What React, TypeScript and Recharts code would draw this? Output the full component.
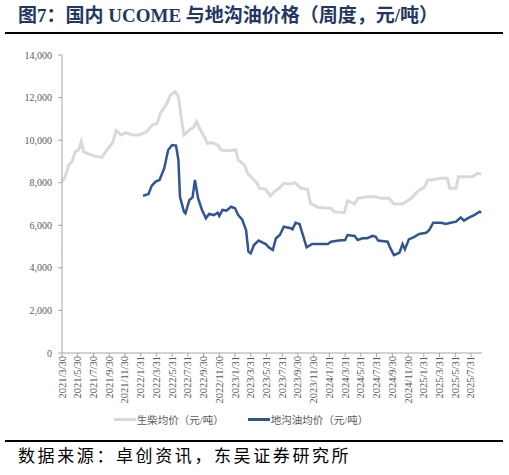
import { LineChart, Line, XAxis, YAxis, Legend } from "recharts";

// 横轴刻度（每两个月）
const tickLabels = [
  "2021/3/30", "2021/5/30", "2021/7/30", "2021/9/30", "2021/11/30",
  "2022/1/31", "2022/3/31", "2022/5/31", "2022/7/31", "2022/9/30", "2022/11/30",
  "2023/1/31", "2023/3/31", "2023/5/31", "2023/7/31", "2023/9/30", "2023/11/30",
  "2024/1/31", "2024/3/31", "2024/5/31", "2024/7/31", "2024/9/30", "2024/11/30",
  "2025/1/31", "2025/3/31", "2025/5/31", "2025/7/31",
];

// 生柴均价：自 2021/3/30 起的月数 / 价格
const dieselMonths = [
  0, 0.4, 0.85, 1.27, 1.7, 2.1, 2.45, 2.75, 3.4, 4.2, 5.1, 5.7, 6.4, 6.9, 7.5,
  8.05, 8.9, 9.8, 10.8, 11.45, 12.1, 12.5, 13.35, 13.8, 14.4, 14.8, 15.2, 15.5,
  16.2, 16.8, 17.1, 17.6, 18.1, 18.5, 19.1, 19.8, 20.2, 21.0, 22.1, 22.4, 23.2,
  23.6, 24.2, 24.8, 25.1, 25.9, 26.5, 27.0, 27.6, 28.2, 29.1, 29.6, 30.4, 31.2,
  31.6, 32.5, 33.5, 34.2, 34.6, 35.9, 36.3, 37.2, 37.6, 38.8, 39.9, 40.5, 41.6,
  42.2, 43.3, 44.4, 45.2, 46.1, 46.5, 47.1, 48.0, 49.0, 49.3, 50.1, 50.4, 52.2,
  52.8, 53.3,
];
const dieselPrices = [
  8050, 8280, 8830, 8990, 9460, 9540, 9930, 9460, 9350, 9250, 9190, 9540, 9850,
  10440, 10240, 10350, 10240, 10240, 10400, 10710, 10790, 11260, 11730, 12120,
  12280, 12040, 10950, 10240, 10480, 10630, 10870, 10480, 10160, 9850, 9880,
  9770, 9540, 9500, 9540, 9070, 8830, 8440, 8210, 7970, 7740, 7690, 7380, 7580,
  7740, 7970, 7940, 8000, 7740, 7690, 7030, 6850, 6810, 6800, 6640, 6590, 7160,
  7000, 7270, 7340, 7340, 7270, 7270, 7000, 7000, 7270, 7580, 7810, 8130, 8130,
  8210, 8210, 7740, 7740, 8280, 8280, 8440, 8410,
];

// 地沟油均价
const gutterMonths = [
  10.3, 11.0, 11.4, 11.9, 12.4, 13.0, 13.5, 14.0, 14.5, 14.8, 15.0, 15.5, 15.7,
  16.2, 16.6, 16.9, 17.3, 17.8, 18.3, 18.7, 19.3, 19.8, 20.0, 20.4, 20.9, 21.5,
  22.0, 22.4, 22.9, 23.4, 23.7, 24.0, 24.4, 25.0, 25.9, 26.3, 26.8, 27.2, 27.7,
  28.2, 29.1, 29.3, 29.7, 30.2, 30.7, 31.1, 31.8, 32.7, 33.8, 34.2, 35.2, 36.0,
  36.3, 37.2, 37.6, 38.2, 38.8, 39.5, 39.9, 40.2, 41.4, 41.7, 42.2, 42.9, 43.3,
  43.6, 44.1, 44.8, 45.4, 46.3, 46.7, 47.2, 48.2, 48.8, 49.4, 50.1, 50.7, 51.1,
  51.8, 52.4, 53.1, 53.3,
];
const gutterPrices = [
  7380, 7470, 7850, 8050, 8130, 8680, 9540, 9770, 9740, 9070, 7340, 6640, 6560,
  7190, 7310, 8130, 7270, 6720, 6330, 6530, 6480, 6590, 6440, 6720, 6690, 6870,
  6800, 6480, 6280, 5780, 4760, 4680, 5070, 5280, 5120, 4960, 4840, 5390, 5540,
  5930, 5860, 5810, 6120, 6060, 5460, 4960, 5120, 5120, 5120, 5230, 5280, 5310,
  5540, 5500, 5310, 5390, 5390, 5500, 5460, 5280, 5230, 4960, 4600, 4710, 5120,
  4870, 5340, 5460, 5590, 5650, 5780, 6120, 6120, 6060, 6120, 6170, 6370, 6220,
  6370, 6480, 6640, 6590,
];

const yTicks = [0, 2000, 4000, 6000, 8000, 10000, 12000, 14000];

const dieselData = dieselMonths.map((m, i) => ({ m, v: dieselPrices[i] }));
const gutterData = gutterMonths.map((m, i) => ({ m, v: gutterPrices[i] }));

const DIESEL = "#d9d9d9";
const GUTTER = "#2f5597";
const TEXT = "#595959";
const AXIS = "#a6a6a6";
const CJK = "'Liberation Serif', 'Noto Sans CJK SC', serif";

function DateTick(props: any) {
  const { x, y, payload } = props;
  const label = tickLabels[Math.round(payload.value / 2)] ?? "";
  return (
    <g transform={`translate(${x},${y - 2})`}>
      <text
        transform="rotate(-90)"
        textAnchor="end"
        dominantBaseline="central"
        fontSize={10.5}
        fontFamily="'Liberation Serif', serif"
        fill={TEXT}
      >
        {label}
      </text>
    </g>
  );
}

function LegendBox() {
  const item = (color: string, label: string) => (
    <span style={{ display: "inline-flex", alignItems: "center", margin: "0 12px" }}>
      <span style={{ display: "inline-block", width: 22, height: 3, background: color }} />
      <span style={{ marginLeft: 1 }}>{label}</span>
    </span>
  );
  return (
    <div
      style={{
        height: 20,
        display: "flex",
        justifyContent: "center",
        alignItems: "center",
        fontSize: 10.5,
        color: TEXT,
        fontFamily: CJK,
      }}
    >
      {item(DIESEL, "生柴均价（元/吨）")}
      {item(GUTTER, "地沟油均价（元/吨）")}
    </div>
  );
}

export default function App() {
  return (
    <div
      style={{
        position: "absolute",
        left: 0,
        top: 0,
        width: 509,
        height: 475,
        background: "#fff",
        overflow: "hidden",
      }}
    >
      <div
        style={{
          position: "absolute",
          left: 18,
          top: 3,
          fontSize: 19,
          fontWeight: 700,
          color: "#1f3864",
          fontFamily: CJK,
          whiteSpace: "nowrap",
          lineHeight: "26px",
        }}
      >
        图7：国内 UCOME 与地沟油价格（周度，元/吨）
      </div>
      <div style={{ position: "absolute", left: 5, top: 32, width: 498, height: 2, background: "#000" }} />

      <div style={{ position: "absolute", left: 0, top: 40 }}>
        <LineChart width={509} height={400} margin={{ top: 15, right: 27, left: 0, bottom: 0 }}>
          <XAxis
            type="number"
            dataKey="m"
            domain={[0, 53.4]}
            ticks={tickLabels.map((_, i) => i * 2)}
            tick={<DateTick />}
            tickSize={4}
            tickMargin={1}
            height={67}
            stroke={AXIS}
            interval={0}
            allowDuplicatedCategory={false}
          />
          <YAxis
            type="number"
            domain={[0, 14000]}
            ticks={yTicks}
            width={62}
            tickSize={4}
            tickMargin={6}
            stroke={AXIS}
            tick={{ fontSize: 10, fill: TEXT, fontFamily: "'Liberation Serif', serif" }}
            tickFormatter={(v: number) => v.toLocaleString("en-US")}
          />
          <Legend
            verticalAlign="bottom"
            height={20}
            content={() => <LegendBox />}
            wrapperStyle={{ bottom: 11 }}
          />
          <Line
            data={dieselData}
            dataKey="v"
            name="生柴均价（元/吨）"
            type="linear"
            stroke={DIESEL}
            strokeWidth={3}
            dot={false}
            isAnimationActive={false}
          />
          <Line
            data={gutterData}
            dataKey="v"
            name="地沟油均价（元/吨）"
            type="linear"
            stroke={GUTTER}
            strokeWidth={2.5}
            dot={false}
            isAnimationActive={false}
          />
        </LineChart>
      </div>

      <div style={{ position: "absolute", left: 5, top: 440, width: 498, height: 2, background: "#000" }} />
      <div
        style={{
          position: "absolute",
          left: 18,
          top: 445,
          fontSize: 17,
          letterSpacing: 2.6,
          color: "#000",
          fontFamily: CJK,
          whiteSpace: "nowrap",
          lineHeight: "24px",
        }}
      >
        数据来源：卓创资讯，东吴证券研究所
      </div>
    </div>
  );
}
